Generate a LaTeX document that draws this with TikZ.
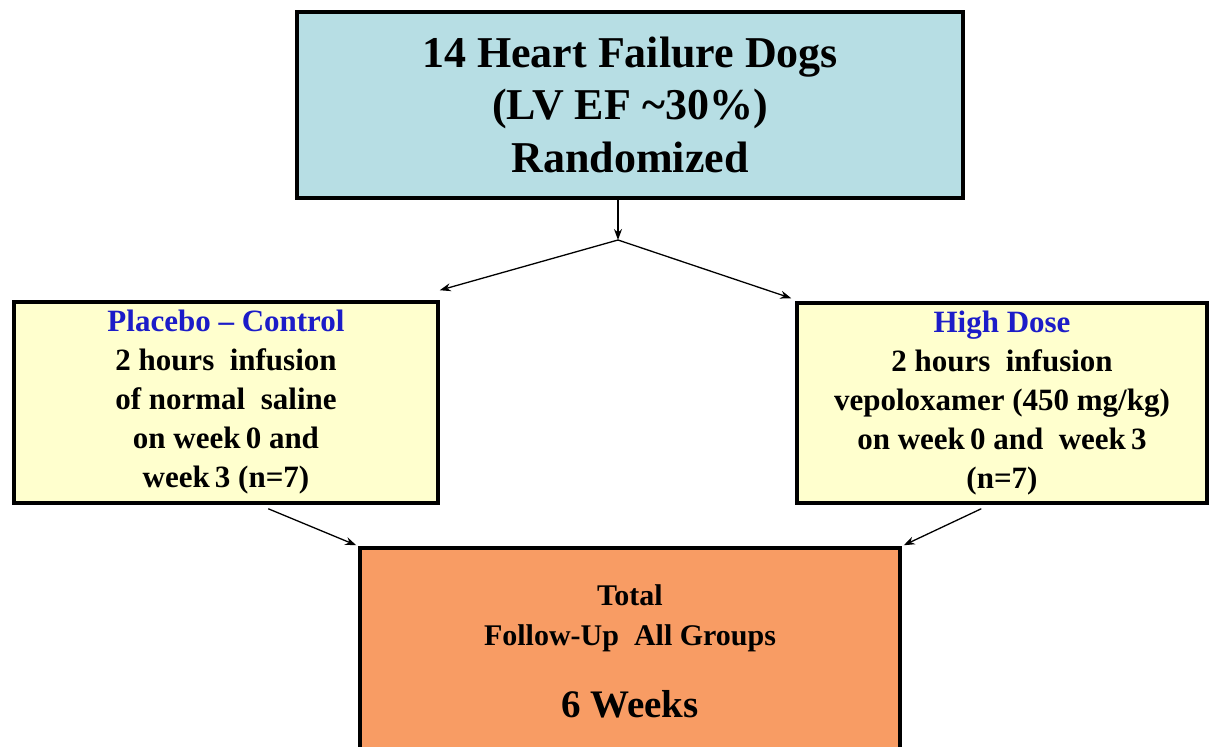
\documentclass[tikz,border=0pt]{standalone}
\usepackage{fontspec}
\setmainfont{Liberation Serif}
\usetikzlibrary{arrows.meta,calc}
\definecolor{topblue}{RGB}{183,222,228}
\definecolor{paleyellow}{RGB}{255,255,206}
\definecolor{boxorange}{RGB}{248,156,100}
\definecolor{headblue}{RGB}{28,28,200}
\begin{document}
\begin{tikzpicture}[x=1pt,y=-1pt,
  box/.style={draw=black,line width=3.5pt,rectangle,align=center,inner sep=0pt,font=\bfseries},
  conn/.style={line width=1.3pt,-{Stealth[length=11pt,width=8pt]}}]
\useasboundingbox[fill=white] (0,0) rectangle (1216,747);
\begin{scope}
\clip (0,0) rectangle (1216,747);
\node[box,fill=topblue,minimum width=666pt,minimum height=186pt,
  font=\bfseries\fontsize{44}{53}\selectfont] (top) at (630,105)
  {14 Heart Failure Dogs\\[-1pt](LV EF \textasciitilde30\%)\\Randomized};
\node[box,fill=paleyellow,minimum width=424pt,minimum height=201pt,
  font=\bfseries\fontsize{31}{39}\selectfont] (left) at (226,402.5)
  {\textcolor{headblue}{Placebo -- Control}\\2 hours\ \ infusion\\of normal\ \ saline\\on week\,0 and\\week\,3 (n=7)};
\node[box,fill=paleyellow,minimum width=410pt,minimum height=200pt,
  font=\bfseries\fontsize{31}{39}\selectfont] (right) at (1002,403)
  {\textcolor{headblue}{High Dose}\\2 hours\ \ infusion\\vepoloxamer (450 mg/kg)\\on week\,0 and\ \ week\,3\\(n=7)};
\node[box,fill=boxorange,minimum width=540pt,minimum height=206pt,
  font=\bfseries\fontsize{30}{40}\selectfont] (bottom) at (630,651)
  {Total\\Follow-Up\ \ All Groups\\[32pt]{\fontsize{39}{40}\selectfont 6 Weeks}};
\end{scope}
\coordinate (split) at (618,240);
\draw[conn] (top.south -| split) -- (split);
\draw[conn] (split) -- ($(left.north east)+(0,-10)$);
\draw[conn] (split) -- ($(right.north west)+(-4,-3)$);
\draw[conn] ($(left.south west)+(256,4)$) -- ($(bottom.north west)+(-2,-1)$);
\draw[conn] ($(right.south west)+(186,4)$) -- ($(bottom.north east)+(2,-1)$);
\end{tikzpicture}
\end{document}
